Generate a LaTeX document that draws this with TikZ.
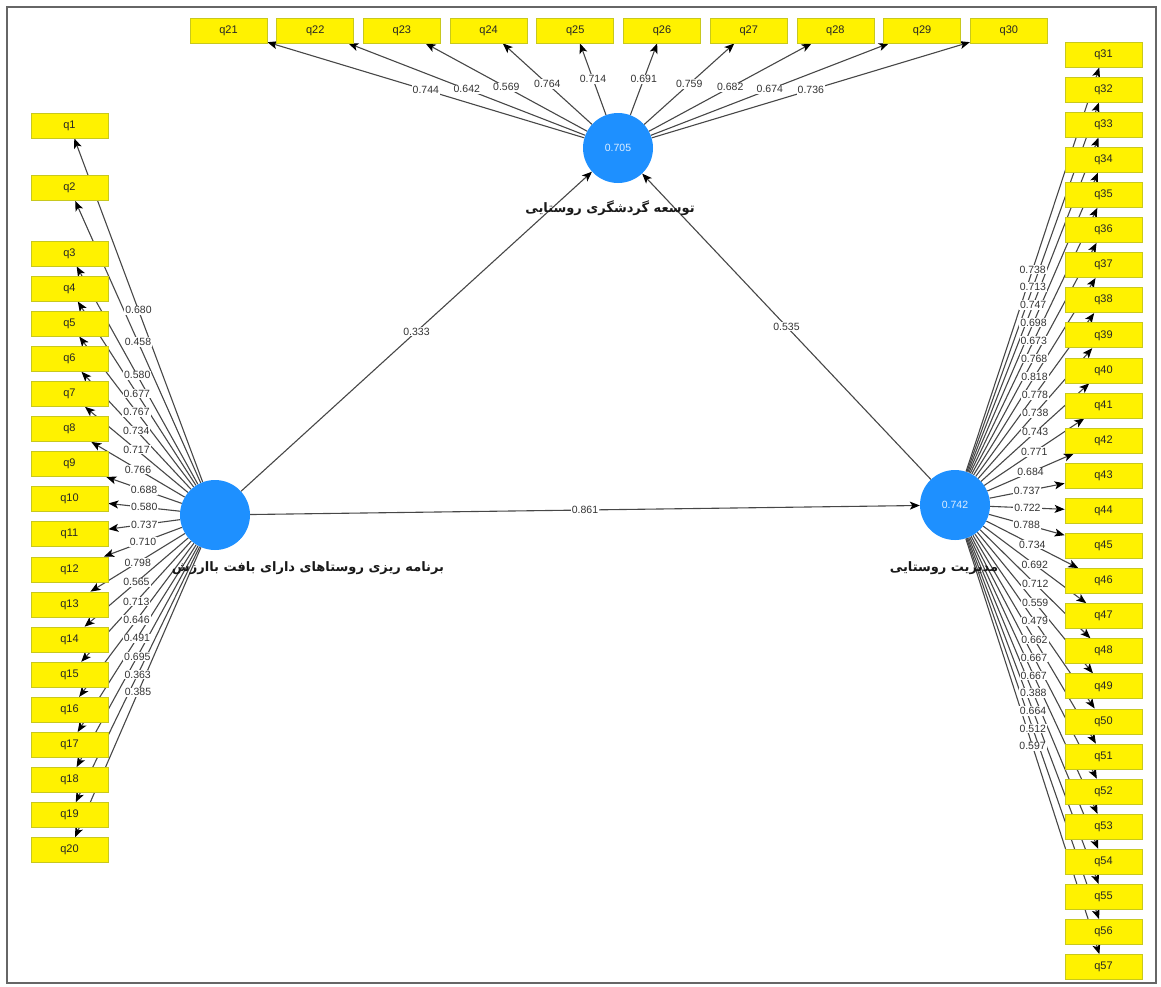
\documentclass[tikz,border=0pt]{standalone}
\usepackage{fontspec}
\setmainfont{Liberation Sans}
\newfontfamily\fa[Script=Arabic]{DejaVu Sans}
\TeXXeTstate=1
\usetikzlibrary{arrows.meta}
\pgfdeclarelayer{bg}
\pgfdeclarelayer{lbl}
\pgfsetlayers{bg,lbl,main}
\definecolor{lvblue}{RGB}{30,144,255}
\definecolor{boxedge}{RGB}{200,200,30}
\begin{document}
\begin{tikzpicture}[x=1pt,y=-1pt,
  ind/.style={draw=boxedge, fill=yellow, line width=0.8pt, minimum width=77pt, minimum height=25pt, inner sep=0pt, font=\fontsize{11}{11}\selectfont, text=black!85},
  lv/.style={circle, fill=lvblue, minimum size=70pt, inner sep=0pt, text=white!85!lvblue, font=\fontsize{10.5}{10.5}\selectfont},
  ld/.style={draw=black!72, line width=1.1pt, -{Stealth[length=10pt,width=8pt,inset=2.5pt,color=black]}},
  lbl/.style={fill=white, inner sep=1pt, font=\fontsize{10.5}{10.5}\selectfont, text=black!80},
  faname/.style={font=\fa\bfseries\fontsize{13}{13}\selectfont, text=black!90}]
\useasboundingbox (0,0) rectangle (1161,986);
\draw[black!60, line width=1.5pt] (7,7) rectangle (1156,983);
% latent variables
\node[lv] (A) at (215,515) {};
\node[lv] (T) at (618,148) {0.705};
\node[lv] (R) at (955,505) {0.742};
\node[faname] (Alab) at (308,568) {\beginR برنامه ریزی روستاهای دارای بافت باارزش\endR};
\node[faname] (Tlab) at (610,208) {\beginR توسعه گردشگری روستایی\endR};
\node[faname] (Rlab) at (944,568) {\beginR مدیریت روستایی\endR};
% indicators
\node[ind] (q1) at (69.5,125.5) {q1};
\node[ind] (q2) at (69.5,188) {q2};
\foreach \i in {3,...,20}{
  \node[ind] (q\i) at (69.5,{253.5+(\i-3)*35.1}) {q\i};
}
\foreach \i in {21,...,30}{
  \node[ind] (q\i) at ({228.5+(\i-21)*86.7},30.5) {q\i};
}
\foreach \i in {31,...,57}{
  \node[ind] (q\i) at (1103.5,{54.5+(\i-31)*35.1}) {q\i};
}
% outer loadings
\foreach \v [count=\i] in {0.680,0.458,0.580,0.677,0.767,0.734,0.717,0.766,0.688,0.580,0.737,0.710,0.798,0.565,0.713,0.646,0.491,0.695,0.363,0.385}{
  \begin{pgfonlayer}{bg}\draw[ld] (A) -- coordinate[pos=0.5] (la\i) (q\i);\end{pgfonlayer}
  \begin{pgfonlayer}{lbl}\node[lbl] (ln\i) at (la\i) {\v};\end{pgfonlayer}
}
\foreach \v [count=\i from 21] in {0.744,0.642,0.569,0.764,0.714,0.691,0.759,0.682,0.674,0.736}{
  \begin{pgfonlayer}{bg}\draw[ld] (T) -- coordinate[pos=0.5] (la\i) (q\i);\end{pgfonlayer}
  \begin{pgfonlayer}{lbl}\node[lbl] (ln\i) at (la\i) {\v};\end{pgfonlayer}
}
\foreach \v [count=\i from 31] in {0.738,0.713,0.747,0.698,0.673,0.768,0.818,0.778,0.738,0.743,0.771,0.684,0.737,0.722,0.788,0.734,0.692,0.712,0.559,0.479,0.662,0.667,0.667,0.388,0.664,0.512,0.597}{
  \begin{pgfonlayer}{bg}\draw[ld] (R) -- coordinate[pos=0.5] (la\i) (q\i);\end{pgfonlayer}
  \begin{pgfonlayer}{lbl}\node[lbl] (ln\i) at (la\i) {\v};\end{pgfonlayer}
}
% inner model
\begin{pgfonlayer}{bg}
\draw[ld] (A) -- coordinate[pos=0.5] (pAT) (T);
\draw[ld] (R) -- coordinate[pos=0.5] (pRT) (T);
\draw[ld] (A) -- coordinate[pos=0.5] (pAR) (R);
\end{pgfonlayer}
\begin{pgfonlayer}{lbl}
\node[lbl] (lAT) at (pAT) {0.333};
\node[lbl] (lRT) at (pRT) {0.535};
\node[lbl] (lAR) at (pAR) {0.861};
\end{pgfonlayer}
\end{tikzpicture}
\end{document}
